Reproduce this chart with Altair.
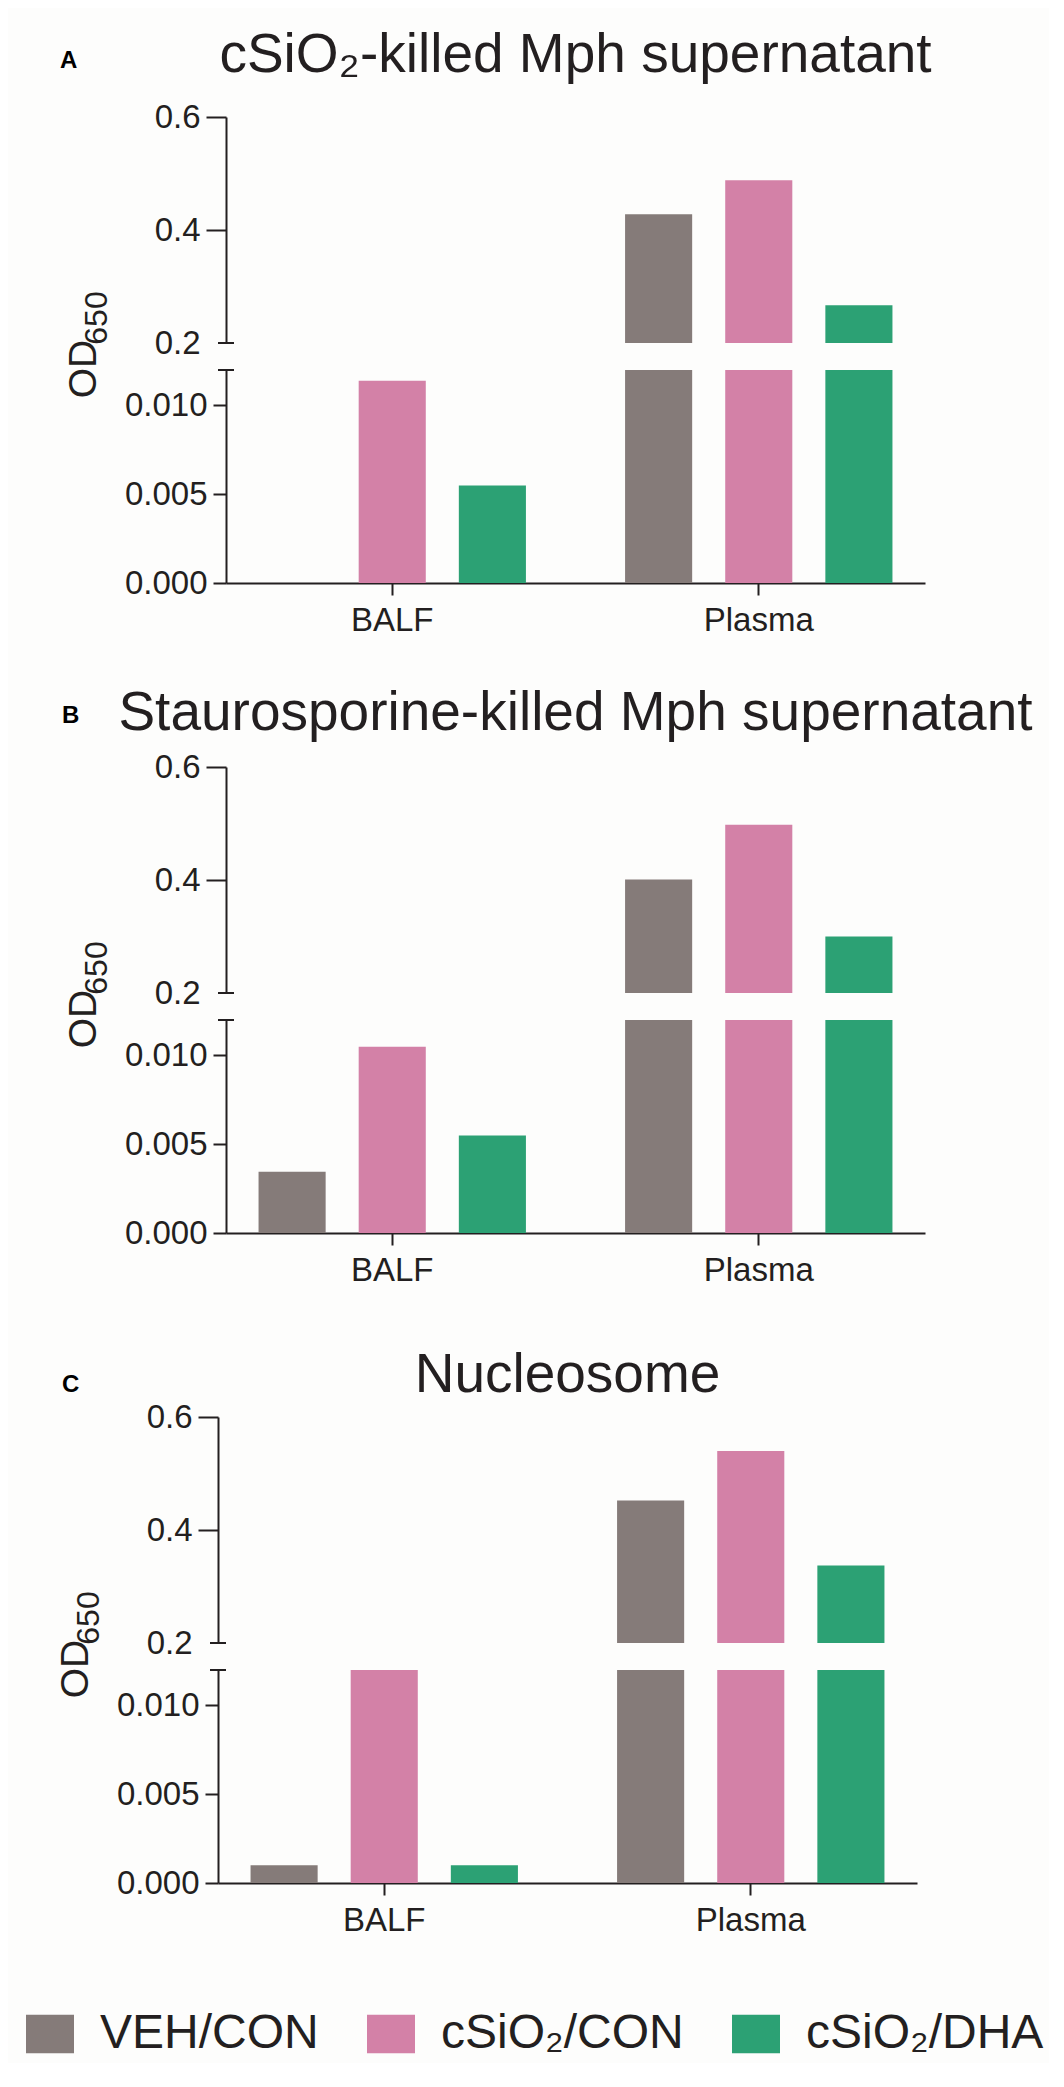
import altair as alt
import pandas as pd

# ---------------- data ----------------
panels = ["A", "B", "C"]
panel_titles = ["cSiO₂-killed Mph supernatant",
                "Staurosporine-killed Mph supernatant",
                "Nucleosome"]
samples = ["BALF", "Plasma"]
groups = ["VEH/CON", "cSiO₂/CON", "cSiO₂/DHA"]
colors = ["#857b79", "#d381a7", "#2ca174"]

a_balf = [0.0, 0.0114, 0.0055]
a_plasma = [0.428, 0.488, 0.267]
b_balf = [0.00345, 0.0105, 0.0055]
b_plasma = [0.401, 0.498, 0.300]
c_balf = [0.001, 0.0125, 0.001]
c_plasma = [0.452, 0.540, 0.337]

upper_ticks = [0.2, 0.4, 0.6]
lower_ticks = [0.0, 0.005, 0.010]
upper_domain = [0.2, 0.6]
lower_domain = [0.0, 0.012]

y_title_main = "OD"
y_title_sub = "650"

rows = []
for p, balf, plasma in zip(panels, [a_balf, b_balf, c_balf], [a_plasma, b_plasma, c_plasma]):
    for g, v in zip(groups, balf):
        rows.append(dict(panel=p, sample="BALF", group=g, value=v))
    for g, v in zip(groups, plasma):
        rows.append(dict(panel=p, sample="Plasma", group=g, value=v))
df = pd.DataFrame(rows)

# ---------------- style / layout ----------------
FONT = "Liberation Sans, Arial, Helvetica, sans-serif"
INK = "#231f20"
W = 699
H_UP = 226
H_LO = 213
GAP = 27
PANEL_GAP = 130

# per panel: horizontal shift, title baseline above plot, letter x, letter baseline above plot
layout = {
    "A": dict(dx=0, t_off=45, l_x=-166, l_off=49),
    "B": dict(dx=0, t_off=37, l_x=-164, l_off=44),
    "C": dict(dx=-8, t_off=25, l_x=-164, l_off=25),
}

legend = alt.Legend(
    title=None, orient="none", legendX=-200, legendY=1893, direction="horizontal",
    symbolType="M-1,-0.8H1V0.8H-1Z", symbolSize=2304, symbolStrokeWidth=0,
    symbolOpacity=1, labelFont=FONT, labelFontSize=48, labelColor=INK,
    labelOffset=26, columnPadding=48, labelLimit=0, padding=0,
)


def color_enc():
    return alt.Color("group:N", sort=groups,
                     scale=alt.Scale(domain=groups, range=colors), legend=legend)


def xoff_enc():
    return alt.XOffset("group:N", sort=groups,
                       scale=alt.Scale(paddingInner=0.33, paddingOuter=0))


def x_enc(dx, show_axis):
    if show_axis:
        axis = alt.Axis(title=None, labelAngle=0, tickSize=12, labelPadding=9)
    else:
        axis = None
    return alt.X("sample:N", sort=samples, axis=axis,
                 scale=alt.Scale(range=[dx, W + dx], paddingInner=0.2705, paddingOuter=0.0888))


one = pd.DataFrame({"k": [0]})


def text_layer(txt, x, y, size, weight="normal", align="center", angle=0, color=INK):
    kw = dict(font=FONT, fontSize=size, fontWeight=weight, color=color,
              align=align, baseline="alphabetic")
    if angle:
        kw["angle"] = angle
    return alt.Chart(pd.DataFrame({"t": [txt]})).mark_text(**kw).encode(
        text="t:N", x=alt.value(x), y=alt.value(y))


def upper(p, title):
    L = layout[p]
    dx = L["dx"]
    d = df[df.panel == p]
    bars = alt.Chart(d).mark_bar(clip=True).encode(
        x=x_enc(dx, False),
        xOffset=xoff_enc(),
        y=alt.Y("value:Q",
                scale=alt.Scale(domain=upper_domain, zero=False, nice=False),
                axis=alt.Axis(values=upper_ticks, format=".1f", tickSize=20, offset=-dx,
                              labelPadding=6, title=None,
                              tickOpacity={"condition": {"test": "datum.value < 0.25", "value": 0},
                                           "value": 1})),
        color=color_enc(),
    )
    brk = alt.Chart(one).mark_rule(color=INK, strokeWidth=2).encode(
        x=alt.value(dx - 8), x2=alt.value(dx + 8), y=alt.value(H_UP))
    ttl = text_layer(title, W / 2 + dx, -L["t_off"], 55)
    let = text_layer(p, L["l_x"], -L["l_off"], 24, weight="bold", align="left", color="#000000")
    yt1 = text_layer(y_title_main, dx - 130, 252, 39, angle=270)
    yt2 = text_layer(y_title_sub, dx - 119, 201, 32, angle=270)
    return alt.layer(bars, brk, ttl, let, yt1, yt2).properties(width=W, height=H_UP)


def lower(p):
    L = layout[p]
    dx = L["dx"]
    d = df[df.panel == p]
    bars = alt.Chart(d).mark_bar(clip=True).encode(
        x=x_enc(dx, True),
        xOffset=xoff_enc(),
        y=alt.Y("value:Q",
                scale=alt.Scale(domain=lower_domain, nice=False),
                axis=alt.Axis(values=lower_ticks, format=".3f", tickSize=13, offset=-dx,
                              labelPadding=6, title=None)),
        color=color_enc(),
    )
    brk = alt.Chart(one).mark_rule(color=INK, strokeWidth=2).encode(
        x=alt.value(dx - 8), x2=alt.value(dx + 8), y=alt.value(0))
    return alt.layer(bars, brk).properties(width=W, height=H_LO)


def spacer():
    return alt.Chart(one).mark_point(opacity=0).encode(
        x=alt.value(0), y=alt.value(0)).properties(width=W, height=PANEL_GAP)


views = []
for i, (p, t) in enumerate(zip(panels, panel_titles)):
    if i > 0:
        views.append(spacer())
    views.append(upper(p, t))
    views.append(lower(p))

chart = alt.vconcat(*views, spacing=GAP, bounds="flush").properties(
    background="#fdfdfc",
    padding={"left": 18, "top": 20, "right": 5, "bottom": 5},
).configure_view(stroke=None).configure_axis(
    labelFont=FONT, labelFontSize=33, labelColor=INK,
    domainColor=INK, domainWidth=2, tickColor=INK, tickWidth=2,
    grid=False, titleFont=FONT, titleColor=INK, titleFontWeight="normal",
)

chart.save("out.html", embed_options={"renderer": "svg", "actions": False})
